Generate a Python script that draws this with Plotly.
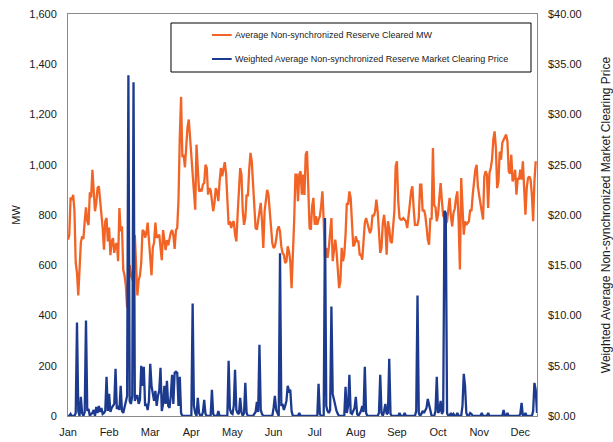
import plotly.graph_objects as go

# ---------------- data ----------------
months = ["Jan", "Feb", "Mar", "Apr", "May", "Jun", "Jul", "Aug", "Sep", "Oct", "Nov", "Dec"]

series_mw_name = "Average Non-synchronized Reserve Cleared MW"
series_price_name = "Weighted Average Non-synchronized Reserve Market Clearing Price"

# Daily average non-synchronized reserve cleared (MW)
mw = [
    702, 720, 870, 860, 880, 820, 610, 570, 480, 590, 690, 715, 705, 775, 830,
    775, 760, 890, 870, 980, 880, 815, 848, 908, 914, 860, 808, 748, 662, 775,
    788, 695, 750, 640, 695, 708, 649, 682, 688, 616, 828, 735, 755, 582, 560,
    520, 430, 520, 600, 560, 540, 530, 720, 600, 480, 540, 560, 610, 740, 735,
    710, 728, 770, 700, 610, 560, 670, 690, 770, 710, 715, 722, 670, 620, 740,
    685, 660, 700, 680, 705, 730, 740, 720, 665, 740, 748, 860, 1110, 1270, 1030,
    1040, 990, 1067, 1150, 1180, 1106, 1005, 954, 868, 821, 1080, 990, 894, 900, 894,
    921, 927, 1000, 987, 881, 907, 900, 855, 815, 848, 907, 894, 855, 934, 987,
    954, 987, 1010, 967, 881, 761, 775, 748, 768, 775, 722, 695, 801, 914, 987,
    961, 815, 761, 788, 881, 875, 980, 1047, 1014, 921, 815, 748, 742, 775, 801,
    848, 775, 669, 815, 861, 900, 881, 815, 735, 688, 669, 675, 702, 742, 755,
    735, 675, 649, 642, 609, 616, 675, 655, 616, 509, 629, 775, 961, 961, 855,
    961, 974, 881, 961, 880, 1040, 1054, 907, 748, 742, 835, 868, 761, 795, 761,
    782, 795, 835, 894, 775, 629, 669, 629, 669, 748, 788, 616, 669, 702, 655,
    569, 509, 536, 669, 616, 642, 722, 848, 841, 894, 868, 775, 675, 682, 715,
    695, 695, 642, 642, 622, 695, 768, 788, 768, 748, 728, 742, 801, 795, 815,
    861, 815, 735, 649, 669, 768, 801, 748, 642, 775, 748, 695, 688, 761, 815,
    994, 1014, 855, 788, 782, 782, 788, 782, 775, 748, 788, 841, 894, 914, 828,
    761, 761, 761, 788, 921, 921, 815, 821, 801, 755, 702, 682, 788, 782, 1067,
    838, 830, 775, 801, 868, 927, 855, 797, 788, 765, 775, 815, 868, 795, 755,
    808, 825, 868, 894, 775, 583, 947, 801, 722, 775, 761, 768, 775, 821, 815,
    881, 934, 980, 1000, 914, 878, 841, 801, 782, 954, 974, 961, 828, 967, 987,
    1020, 1100, 1133, 1067, 907, 934, 1053, 1020, 1087, 1103, 1110, 1120, 1093, 974, 964,
    1040, 934, 947, 980, 881, 947, 941, 980, 941, 1014, 907, 801, 907, 947, 954,
    941, 881, 775, 934, 1014,
]

# Daily weighted average market clearing price ($/MWh)
price = [
    0, 0, 0.2, 0, 0, 0, 0.3, 9.3, 0.5, 0, 1.9, 0.3, 0, 0.4, 9.5,
    0.5, 0.7, 0, 0.2, 0.3, 0.6, 0, 0.9, 0.3, 1.0, 0.4, 0.8, 0.2, 0.3, 0.5,
    3.9, 0.5, 2.2, 0.4, 0.8, 1.0, 1.2, 4.7, 0.7, 1.0, 0.6, 3.0, 0.5, 0.3, 0.8,
    1.5, 2.0, 33.9, 1.5, 1.2, 2.0, 33.2, 1.5, 2.0, 2.0, 1.2, 1.6, 5.0, 3.0, 4.9,
    1.0, 1.2, 0.6, 1.5, 5.2, 3.0, 2.2, 1.5, 2.5, 1.0, 2.0, 2.5, 4.8, 0.5, 1.2,
    3.0, 1.2, 3.5, 1.0, 0.8, 2.0, 4.1, 1.2, 4.3, 4.4, 4.3, 1.0, 3.9, 0.3, 0,
    0, 0, 0, 0, 0, 0, 0, 11.2, 1.0, 0.3, 0, 1.8, 0.3, 0, 0,
    0.4, 1.6, 0.2, 0, 0, 0, 0, 2.6, 0.2, 0, 0, 0, 0.5, 0, 0,
    0, 0, 0, 0, 0, 5.5, 0.7, 0.3, 0.2, 1.0, 4.6, 0.6, 0.3, 0.2, 1.8,
    0.4, 0, 0.3, 3.3, 0.3, 0, 0, 0, 0, 0, 0.2, 0.4, 1.4, 0.4, 7.1,
    0.6, 0.2, 0, 0, 0, 0, 0, 0, 0, 0, 0.8, 2.0, 0.6, 0.3, 0,
    16.2, 1.0, 1.2, 0.6, 1.0, 1.5, 3.0, 2.5, 2.6, 0.5, 0, 0, 0, 0, 0,
    0.3, 0, 0, 0, 0, 0, 0, 0, 0, 0, 0, 0, 0, 0, 0,
    3.2, 0.2, 0, 0, 0, 19.7, 1.0, 0.5, 0.3, 0.6, 10.9, 2.2, 1.5, 1.0, 0.5,
    0.2, 0, 0, 0, 0, 0, 2.9, 0.3, 1.0, 4.1, 0.3, 0.2, 0.5, 0.8, 1.9,
    0.2, 0, 0.3, 0.5, 1.0, 0.4, 4.9, 0.3, 0, 0, 0, 0, 0, 0, 0,
    0, 0, 0.3, 4.1, 0.3, 0, 0.5, 1.2, 0.2, 0.3, 5.7, 0.2, 0, 0, 0,
    0, 0, 0, 0.3, 0, 0, 0, 0.3, 0, 0, 0, 0, 0, 0, 0,
    0, 0.5, 12.0, 0.3, 0, 0.2, 0.5, 0.3, 0.6, 0.8, 1.7, 1.0, 0.3, 0, 0,
    0, 0.5, 3.9, 0.3, 0.5, 1.5, 0.2, 0.5, 20.4, 20.2, 0.3, 0, 0, 0.3, 0,
    0.2, 0, 0, 0.3, 0, 0, 0, 1.0, 4.2, 3.0, 0.3, 0, 0, 0.3, 0.2,
    0, 0, 0, 0, 0, 0, 0, 0.3, 0, 0, 0, 0, 0.3, 0, 0,
    0, 0, 0, 0, 0, 0, 0, 0, 0, 0.6, 0, 0, 0.3, 0, 0,
    0, 0, 0, 0, 0, 0, 0, 0.2, 1.3, 0, 0, 0.3, 0, 0, 0,
    0, 0, 0.5, 3.3, 2.6, 0.3,
]

# ---------------- figure ----------------
ORANGE = "#F26426"
BLUE = "#1C3A8E"
FRAME = "#8A8A8A"
FONT = "Arial, Liberation Sans, sans-serif"

days = list(range(len(mw)))
month_ticks = [i * 32 for i in range(len(months))]

fig = go.Figure()
fig.add_trace(go.Scatter(x=days, y=mw, mode="lines", name=series_mw_name,
                         line=dict(color=ORANGE, width=2.3), yaxis="y"))
fig.add_trace(go.Scatter(x=list(range(len(price))), y=price, mode="lines",
                         name=series_price_name,
                         line=dict(color=BLUE, width=2.3), yaxis="y2"))

fig.update_layout(
    template="none",
    width=613, height=442, autosize=False,
    margin=dict(l=68, r=76, t=14, b=26, pad=0),
    showlegend=False,
    plot_bgcolor="white", paper_bgcolor="white",
    font=dict(family=FONT, size=11, color="#1a1a1a"),
    xaxis=dict(range=[0, len(mw)], tickvals=month_ticks, ticktext=months,
               showline=True, linecolor=FRAME, linewidth=1, mirror=True,
               showgrid=False, zeroline=False, ticks="", ticklabelstandoff=6,
               automargin=False),
    yaxis=dict(range=[0, 1600], dtick=200, tickformat=",",
               title=dict(text="MW", standoff=6, font=dict(size=11)),
               showline=True, linecolor=FRAME, linewidth=1, mirror=True,
               showgrid=False, zeroline=False, ticks="", ticklabelstandoff=8,
               automargin=False),
    yaxis2=dict(range=[0, 40], dtick=5, tickprefix="$", tickformat=".2f",
                overlaying="y", side="right",
                title=dict(text="Weighted Average Non-synchronized Market Clearing Price",
                           standoff=20, font=dict(size=12)),
                showline=False, showgrid=False, zeroline=False, ticks="",
                ticklabelstandoff=10, automargin=False),
)

# legend box drawn manually (paper coordinates)
fig.add_shape(type="rect", xref="paper", yref="paper",
              x0=0.2196, x1=0.9872, y0=0.8557, y1=0.9776,
              line=dict(color="black", width=1), fillcolor="white", layer="below")
legend_rows = [(series_mw_name, ORANGE, 0.9478), (series_price_name, BLUE, 0.8881)]
for text, color, yy in legend_rows:
    fig.add_shape(type="line", xref="paper", yref="paper",
                  x0=0.307, x1=0.349, y0=yy, y1=yy,
                  line=dict(color=color, width=2))
    fig.add_annotation(xref="paper", yref="paper", x=0.351, y=yy,
                       xanchor="left", yanchor="middle", showarrow=False,
                       text=text, font=dict(family=FONT, size=9, color="#1a1a1a"))

fig.write_html("out.html", config={"displayModeBar": False},
               post_script="document.body.style.margin='0px';")
